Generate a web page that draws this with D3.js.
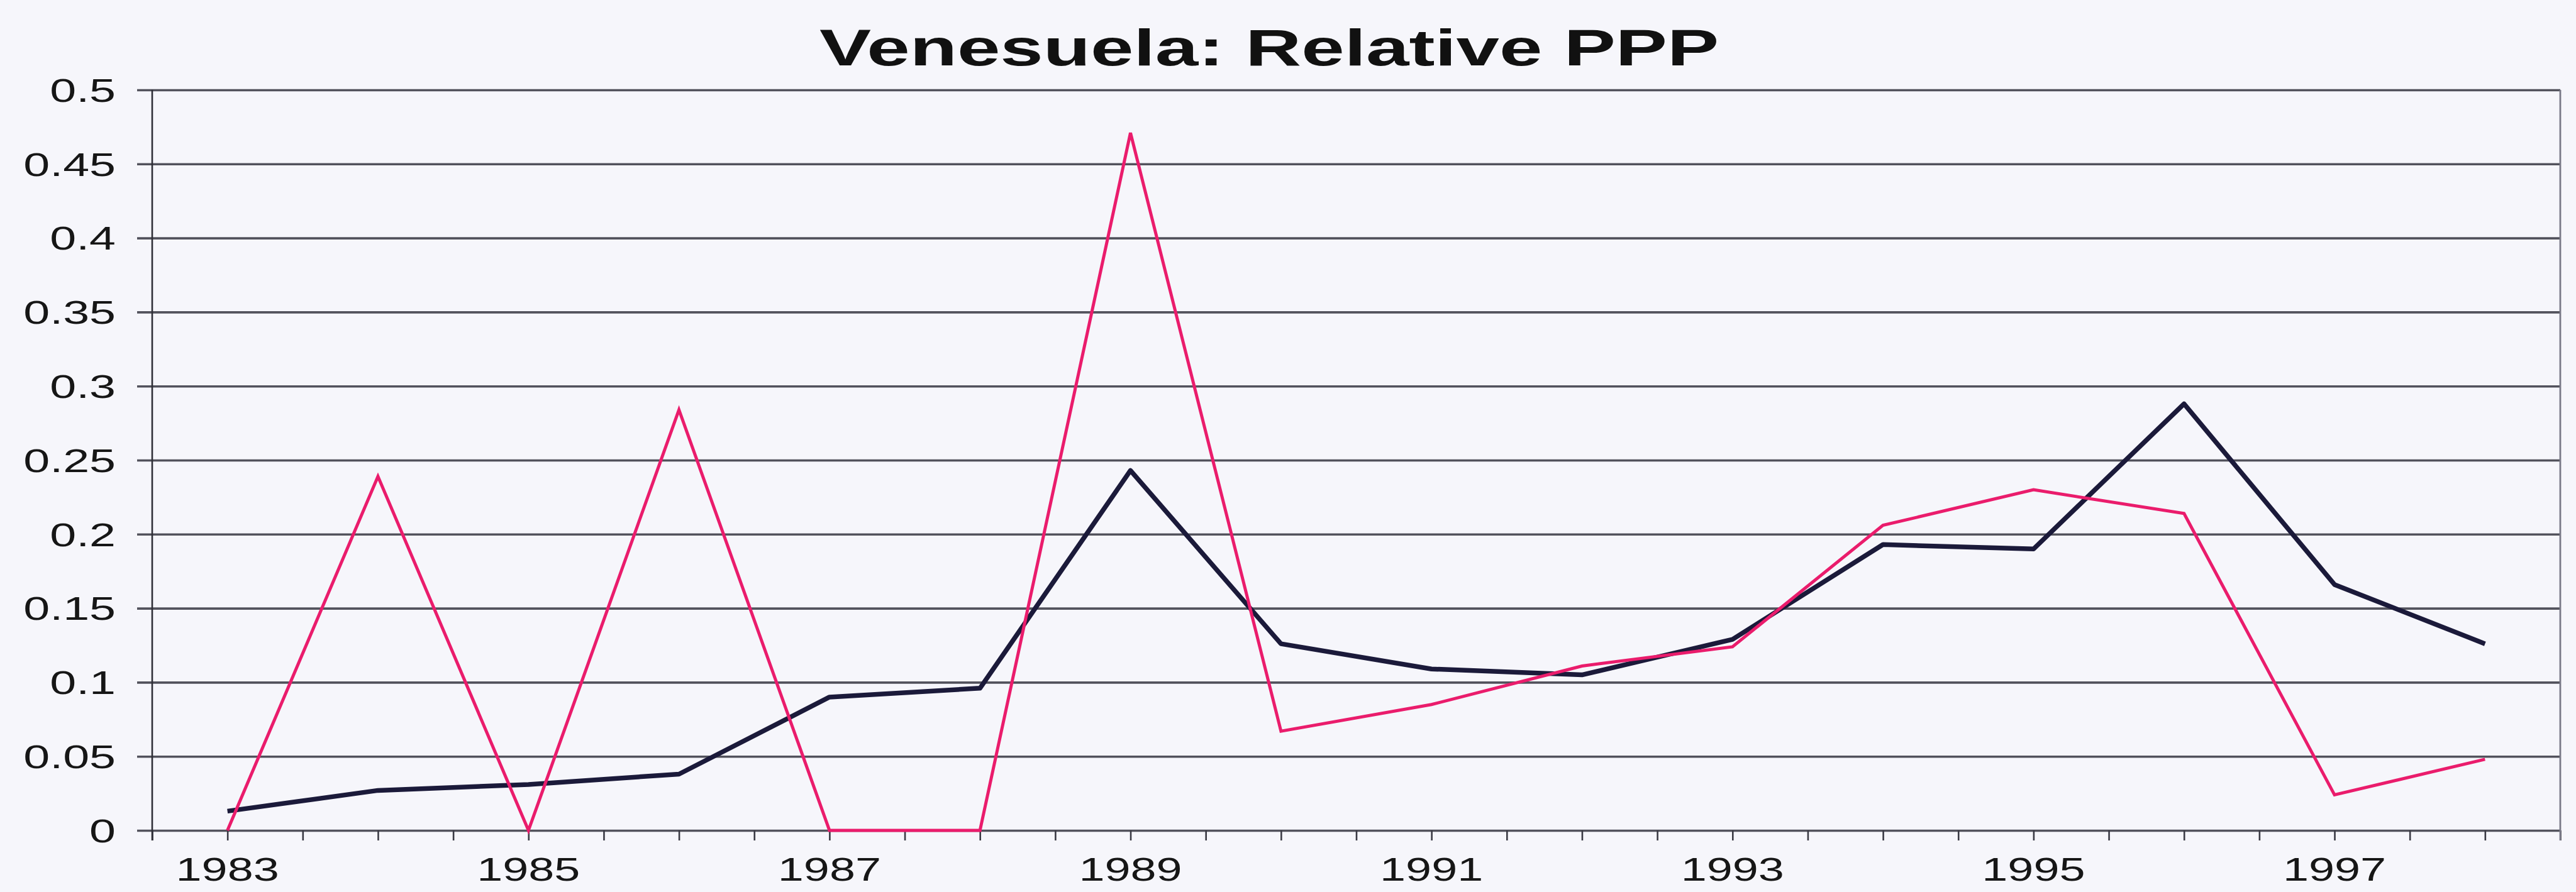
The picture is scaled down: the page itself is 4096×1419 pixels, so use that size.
<!DOCTYPE html>
<html><head><meta charset="utf-8">
<script src="https://cdn.jsdelivr.net/npm/d3@7"></script>
<style>html,body{margin:0;padding:0;background:#f6f6fb;overflow:hidden} svg{display:block}</style>
</head><body>
<svg id="chart" width="4096" height="1419"></svg>
<script>
// ---- data ----
const years = [1983,1984,1985,1986,1987,1988,1989,1990,1991,1992,1993,1994,1995,1996,1997,1998];
const pinkSeries  = [0, 0.239, 0, 0.284, 0, 0, 0.471, 0.067, 0.085, 0.111, 0.124, 0.206, 0.23, 0.214, 0.024, 0.048];
const blackSeries = [0.013, 0.027, 0.031, 0.038, 0.090, 0.096, 0.243, 0.126, 0.109, 0.105, 0.129, 0.193, 0.190, 0.288, 0.166, 0.126];
const yTickValues = [0, 0.05, 0.1, 0.15, 0.2, 0.25, 0.3, 0.35, 0.4, 0.45, 0.5];
const yTickLabels = ["0","0.05","0.1","0.15","0.2","0.25","0.3","0.35","0.4","0.45","0.5"];
const xLabelYears = [1983, 1985, 1987, 1989, 1991, 1993, 1995, 1997];
const xLabels = ["1983","1985","1987","1989","1991","1993","1995","1997"];
const xDomain = [1982.5, 1998.5];
const titleText = "Venesuela: Relative PPP";

// ---- layout ----
const m = {left: 242, right: 4071, top: 143, bottom: 1321};
const svg = d3.select("#chart");
svg.append("rect").attr("width", 4096).attr("height", 1419).attr("fill", "#f6f6fb");

const x = d3.scaleLinear().domain(xDomain).range([m.left, m.right]);
const y = d3.scaleLinear().domain([0, 0.5]).range([m.bottom, m.top]);

const halfTicks = d3.range(xDomain[0], xDomain[1] + 0.001, 0.5);

// gridlines (with outside tick stubs)
const grid = svg.append("g").attr("transform", `translate(${m.left},0)`)
  .call(d3.axisLeft(y).tickValues(yTickValues).tickSize(-(m.right - m.left)).tickFormat(""));
grid.select(".domain").remove();
grid.selectAll(".tick line")
  .attr("x1", -24).attr("x2", m.right - m.left)
  .attr("stroke", "#52525c").attr("stroke-width", 3.6);

// x axis ticks
const xa = svg.append("g").attr("transform", `translate(0,${m.bottom})`)
  .call(d3.axisBottom(x).tickValues(halfTicks).tickSize(16).tickFormat(""));
xa.select(".domain").remove();
xa.selectAll(".tick line").attr("stroke", "#3a3a44").attr("stroke-width", 2.6);

// left axis line
svg.append("line").attr("x1", m.left).attr("x2", m.left)
  .attr("y1", y(0.5)).attr("y2", y(0) + 16)
  .attr("stroke", "#2e2e36").attr("stroke-width", 2.6);
// right border
svg.append("line").attr("x1", m.right).attr("x2", m.right)
  .attr("y1", y(0.5)).attr("y2", y(0) + 16)
  .attr("stroke", "#7a7a88").attr("stroke-width", 2.8);

// y labels
svg.append("g").selectAll("text").data(yTickValues).join("text")
  .attr("transform", d => `translate(184,${y(d)}) scale(1.45,1)`)
  .attr("text-anchor", "end").attr("dy", "0.36em")
  .attr("font-family", "'Liberation Sans', Arial, sans-serif")
  .attr("font-size", 52).attr("fill", "#161616")
  .text((d, i) => yTickLabels[i]);

// x labels
svg.append("g").selectAll("text").data(xLabelYears).join("text")
  .attr("transform", d => `translate(${x(d)},1401) scale(1.42,1)`)
  .attr("text-anchor", "middle")
  .attr("font-family", "'Liberation Sans', Arial, sans-serif")
  .attr("font-size", 52).attr("fill", "#161616")
  .text((d, i) => xLabels[i]);

// title
svg.append("text")
  .attr("transform", "translate(2018,104) scale(1.52,1)")
  .attr("text-anchor", "middle")
  .attr("font-family", "'Liberation Sans', Arial, sans-serif")
  .attr("font-weight", "bold").attr("font-size", 81).attr("fill", "#111")
  .text(titleText);

// lines
const line = d3.line().x(d => x(d[0])).y(d => y(d[1]));
svg.append("path").datum(years.map((yr, i) => [yr, blackSeries[i]]))
  .attr("d", line).attr("fill", "none")
  .attr("stroke", "#1b1a3a").attr("stroke-width", 7.5).attr("stroke-linejoin", "round");
svg.append("path").datum(years.map((yr, i) => [yr, pinkSeries[i]]))
  .attr("d", line).attr("fill", "none")
  .attr("stroke", "#ea1c6c").attr("stroke-width", 5).attr("stroke-linejoin", "miter");
</script>
</body></html>
